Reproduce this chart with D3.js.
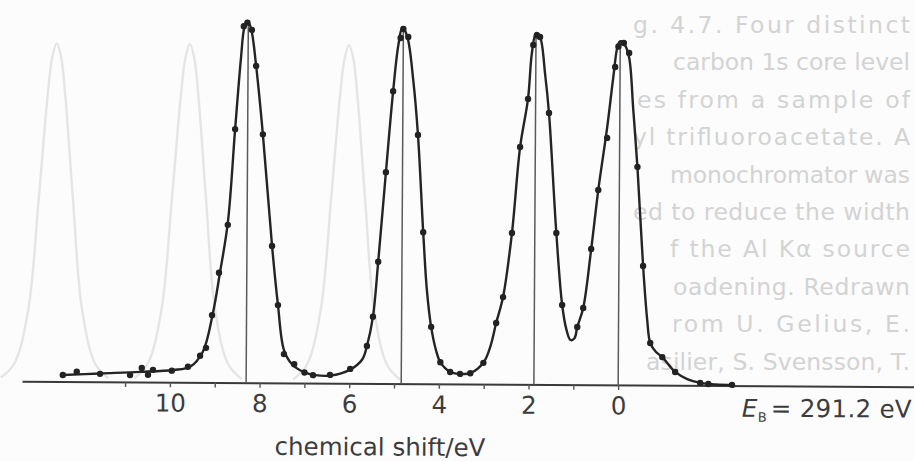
<!DOCTYPE html>
<html>
<head>
<meta charset="utf-8">
<script src="https://cdn.jsdelivr.net/npm/d3@7"></script>
<style>
  html, body { margin: 0; padding: 0; background: #fcfcfc; }
  svg { display: block; }
  text { font-family: "DejaVu Sans", Verdana, sans-serif; }
</style>
</head>
<body>
<svg id="chart" width="914" height="461"></svg>
<script>
// Carbon 1s spectrum of ethyl trifluoroacetate: chemical shift (eV) vs. intensity (relative units)

// Fitted envelope, [shift, intensity]
const envelope = [
  [12.40, 1.8], [11.56, 2.3], [10.67, 2.8], [9.93, 3.4], [9.55, 4.3], [9.27, 8.5],
  [9.05, 19.3], [8.90, 30.4], [8.73, 44.4], [8.58, 70.4], [8.46, 90], [8.39, 98.5],
  [8.32, 100.5], [8.24, 98.5], [8.12, 88], [7.96, 69], [7.74, 38], [7.60, 21.6],
  [7.46, 9.1], [7.28, 5.2], [7.01, 3.0], [6.76, 2.2], [6.43, 2.1], [5.98, 3.8],
  [5.71, 6.7], [5.61, 10.4], [5.48, 18.5], [5.37, 33.8], [5.21, 58.7], [5.06, 81.2],
  [4.95, 94], [4.86, 99], [4.75, 96.3], [4.61, 84], [4.50, 69.1], [4.37, 42.1],
  [4.28, 26], [4.18, 15.8], [4.07, 9.4], [3.97, 6.0], [3.75, 3.3], [3.53, 2.8],
  [3.30, 3.0], [3.01, 5.9], [2.86, 10.3], [2.73, 17], [2.58, 24.2], [2.39, 42],
  [2.22, 65.9], [2.05, 79.3], [1.97, 92], [1.88, 97.6], [1.79, 96.5], [1.67, 86],
  [1.58, 75.4], [1.40, 42.1], [1.26, 22.1], [1.16, 15.2], [1.07, 12.4], [0.98, 12.9],
  [0.92, 16], [0.79, 21.3], [0.62, 37.7], [0.47, 54.1], [0.28, 71.5], [0.15, 85.5],
  [0.06, 94], [0.00, 95.5], [-0.10, 94.5], [-0.20, 91], [-0.30, 76.4], [-0.40, 60.6],
  [-0.54, 33.1], [-0.64, 18], [-0.71, 11.7], [-0.84, 9.2], [-0.98, 7.8], [-1.27, 3.7],
  [-1.54, 1.75], [-1.83, 0.7], [-2.17, 0.3], [-2.59, 0.2]
];

// Measured points, [shift, intensity]
const measured = [
  [12.39, 1.8], [12.08, 2.75], [11.56, 2.2], [10.89, 1.9], [10.63, 3.9], [10.49, 2.0],
  [10.38, 3.4], [9.96, 3.2], [9.60, 4.3], [9.33, 7.4], [9.20, 9.6], [9.07, 18.7],
  [8.92, 30.5], [8.73, 43.8], [8.58, 70.4], [8.40, 99], [8.32, 100], [8.22, 98],
  [8.12, 88], [7.96, 69], [7.74, 38], [7.60, 21.6], [7.46, 8.0], [7.23, 5.2],
  [7.00, 2.9], [6.81, 2.2], [6.43, 2.3], [5.98, 4.0], [5.61, 10.4], [5.48, 18.5],
  [5.37, 33.8], [5.21, 58.7], [5.06, 81.2], [4.90, 96], [4.84, 98.5], [4.73, 96.3],
  [4.50, 69.1], [4.37, 42.1], [4.18, 15.8], [3.97, 6.0], [3.75, 3.3], [3.53, 2.8],
  [3.30, 3.0], [3.01, 5.9], [2.73, 17], [2.58, 24.2], [2.39, 42], [2.22, 65.9],
  [2.05, 79.3], [1.94, 94.3], [1.86, 97], [1.79, 96.5], [1.58, 75.4], [1.40, 42.1],
  [1.26, 22.1], [0.92, 16], [0.79, 21.3], [0.62, 37.7], [0.47, 54.1], [0.28, 68.6],
  [0.11, 88.3], [0.04, 94], [-0.08, 95], [-0.20, 92.2], [-0.40, 60.6], [-0.54, 33.1],
  [-0.71, 11.7], [-0.98, 7.8], [-1.27, 3.7], [-1.83, 0.7], [-2.01, 0.4], [-2.54, 0.2]
];

// Line positions of the four carbon environments and their heights
const lineShifts  = [8.30, 4.84, 1.88, 0.00];
const lineHeights = [100.5, 99, 97.6, 95.5];

// Axis ticks
const tickValues = [0, 1, 2, 3, 4, 5, 6, 7, 8, 9, 10, 11];
const tickLabels = ["0", "", "2", "", "4", "", "6", "", "8", "", "10", ""];

// Faint print from the reverse of the page: peak centres and a peak profile [offset, intensity]
const reverseCentres = [12.57, 9.60, 6.05];
const reverseProfile = [
  [-1.2, 1], [-0.9, 5], [-0.6, 20], [-0.38, 51], [-0.2, 79], [-0.1, 90], [0, 94],
  [0.1, 90], [0.2, 79], [0.38, 51], [0.6, 20], [0.9, 5], [1.2, 1]
];

// Caption text beside the figure (justified to a common right margin)
const captionLines = [
  "g. 4.7.  Four distinct",
  "carbon 1s core level",
  "es from a sample of",
  "yl trifluoroacetate. A",
  "monochromator was",
  "ed to reduce the width",
  "f the Al K\u03b1 source",
  "oadening. Redrawn",
  "rom U. Gelius, E.",
  "asilier, S. Svensson, T."
];
const captionIndent = [633, 673, 637, 633, 670, 633, 670, 673, 672, 646];
const captionRight = 910;

const svg = d3.select("#chart");

// caption, very light
svg.append("g")
  .selectAll("text")
  .data(captionLines)
  .join("text")
  .attr("x", (d, i) => captionIndent[i])
  .attr("y", (d, i) => 33 + i * 37.4)
  .attr("font-size", 23.5)
  .attr("fill", "#d3d3d3")
  .attr("textLength", (d, i) => captionRight - captionIndent[i])
  .attr("lengthAdjust", "spacing")
  .text(d => d);

const x = d3.scaleLinear().domain([13.3, -6.6]).range([22, 914]);
const y = d3.scaleLinear().domain([0, 100]).range([384, 24]);

// the plate sits very slightly turned
const plot = svg.append("g").attr("transform", "rotate(0.35,468,384)");

const line = d3.line()
  .x(d => x(d[0]))
  .y(d => y(d[1]))
  .curve(d3.curveCatmullRom.alpha(0.5));

// faint peaks printed on the other side
plot.append("g")
  .selectAll("path")
  .data(reverseCentres)
  .join("path")
  .attr("d", c => line(reverseProfile.map(p => [c + p[0], p[1]])))
  .attr("fill", "none")
  .attr("stroke", "#e5e5e5")
  .attr("stroke-width", 2.4);

// x axis
const axis = d3.axisBottom(x)
  .tickValues(tickValues)
  .tickFormat((d, i) => tickLabels[i])
  .tickSizeInner(5)
  .tickSizeOuter(0)
  .tickPadding(7);

const gx = plot.append("g")
  .attr("transform", `translate(0,${y(0)})`)
  .call(axis);
gx.select(".domain").attr("stroke", "#3a3a3a").attr("stroke-width", 2);
gx.selectAll(".tick line").attr("stroke", "#555").attr("stroke-width", 1.4);
gx.selectAll(".tick text")
  .attr("font-size", 24.5)
  .attr("font-family", "'DejaVu Sans', Verdana, sans-serif")
  .attr("fill", "#3c3c3c");

// vertical markers at each line position
plot.append("g")
  .selectAll("line")
  .data(lineShifts)
  .join("line")
  .attr("x1", d => x(d))
  .attr("x2", d => x(d))
  .attr("y1", y(0))
  .attr("y2", (d, i) => y(lineHeights[i]))
  .attr("stroke", "#5a5a5a")
  .attr("stroke-width", 1.5);

// fitted envelope
plot.append("path")
  .datum(envelope)
  .attr("d", line)
  .attr("fill", "none")
  .attr("stroke", "#242424")
  .attr("stroke-width", 2.4)
  .attr("stroke-linejoin", "round");

// measured points
plot.append("g")
  .selectAll("circle")
  .data(measured)
  .join("circle")
  .attr("cx", d => x(d[0]))
  .attr("cy", d => y(d[1]))
  .attr("r", 3.2)
  .attr("fill", "#222");

// axis title
plot.append("text")
  .attr("x", 275)
  .attr("y", 456)
  .attr("font-size", 24.5)
  .attr("fill", "#3c3c3c")
  .text("chemical shift/eV");

// binding energy of the reference line
const eb = plot.append("text")
  .attr("y", 415)
  .attr("font-size", 24.5)
  .attr("fill", "#3c3c3c");
eb.append("tspan").attr("x", 742).attr("font-style", "italic").text("E");
eb.append("tspan").attr("x", 758).attr("dy", 5).attr("font-size", 13).text("B");
eb.append("tspan").attr("x", 771).attr("dy", -5).attr("letter-spacing", 0.3).text("= 291.2 eV");
</script>
</body>
</html>
